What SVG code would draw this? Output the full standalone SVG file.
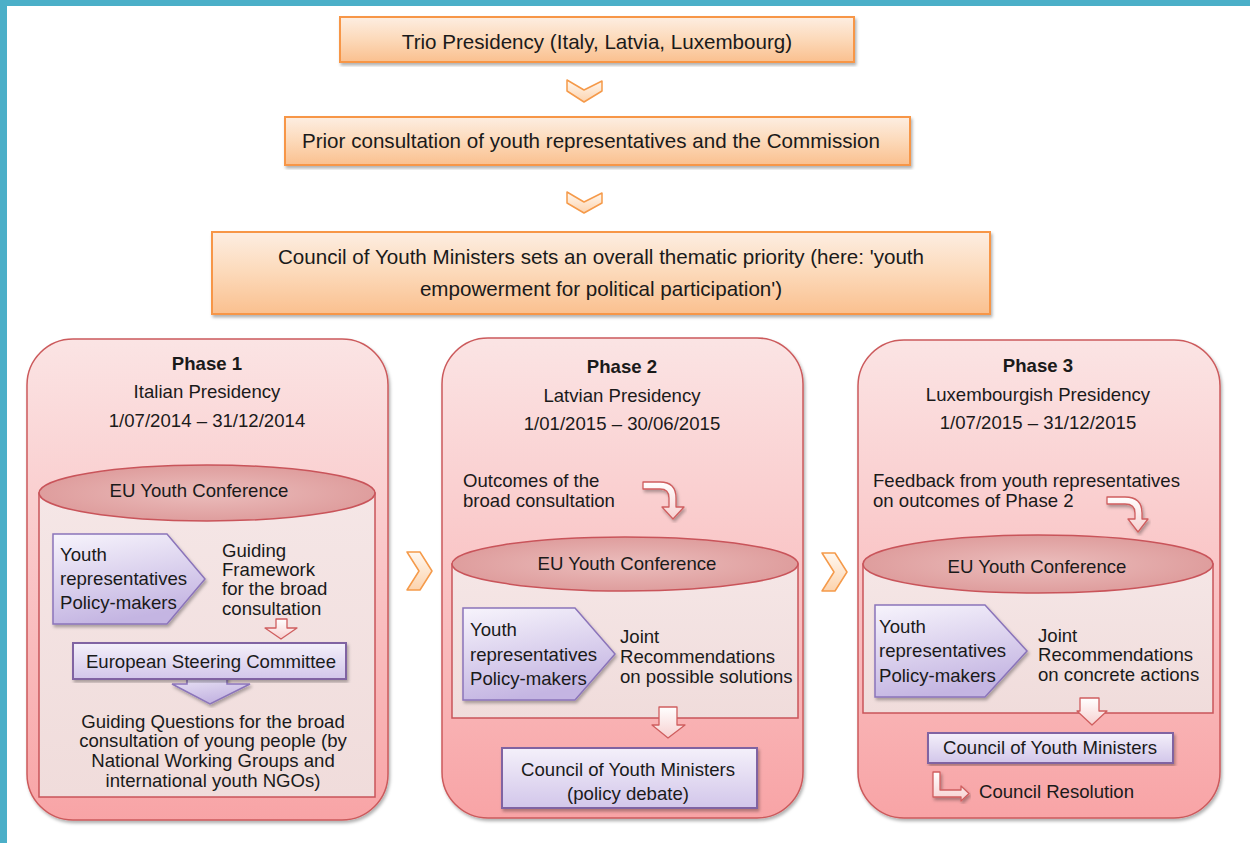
<svg xmlns="http://www.w3.org/2000/svg" width="1250" height="843" viewBox="0 0 1250 843">
<defs>
<linearGradient id="gOrange" x1="0" y1="0" x2="0" y2="1">
<stop offset="0" stop-color="#FDEEE2"/><stop offset="0.5" stop-color="#FCD9B9"/><stop offset="1" stop-color="#FAC08F"/>
</linearGradient>
<linearGradient id="gPanel" x1="0" y1="0" x2="0" y2="1">
<stop offset="0" stop-color="#FBE4E4"/><stop offset="1" stop-color="#F8A4A6"/>
</linearGradient>
<linearGradient id="gBody" x1="0" y1="0" x2="0" y2="1">
<stop offset="0" stop-color="#F5E6E6"/><stop offset="1" stop-color="#F0DCDB"/>
</linearGradient>
<radialGradient id="gTop" cx="0.5" cy="0.5" r="0.6">
<stop offset="0" stop-color="#EBBDBC"/><stop offset="1" stop-color="#DC9797"/>
</radialGradient>
<linearGradient id="gLav" x1="0" y1="0" x2="0.3" y2="1">
<stop offset="0" stop-color="#F7F4FC"/><stop offset="1" stop-color="#C4B5E2"/>
</linearGradient>
<linearGradient id="gLavBox" x1="0" y1="0" x2="0" y2="1">
<stop offset="0" stop-color="#F4F0FA"/><stop offset="1" stop-color="#D2C6EA"/>
</linearGradient>
<linearGradient id="gChev" x1="0" y1="0" x2="0" y2="1">
<stop offset="0" stop-color="#FFF8F0"/><stop offset="1" stop-color="#FCD3AE"/>
</linearGradient>
<linearGradient id="gRed" x1="0" y1="0" x2="0" y2="1">
<stop offset="0" stop-color="#FFFFFF"/><stop offset="1" stop-color="#F7D0D0"/>
</linearGradient>
<filter id="sh" x="-5%" y="-5%" width="110%" height="115%">
<feDropShadow dx="1.5" dy="2.5" stdDeviation="1.5" flood-color="#000" flood-opacity="0.3"/>
</filter>
</defs>
<style>
text{font-family:"Liberation Sans",Arial,sans-serif;fill:#1a1a1a;}
.t19{font-size:20.6px;}
.t17{font-size:18.6px;}
.b{font-weight:bold;}
.c{text-anchor:middle;}
.ob{fill:url(#gOrange);stroke:#F79646;stroke-width:2;}
.panel{fill:url(#gPanel);stroke:#CC5A5C;stroke-width:1.5;}
.body{fill:url(#gBody);stroke:#C9545A;stroke-width:1.5;}
.top{fill:url(#gTop);stroke:#C9545A;stroke-width:1.5;}
.pent{fill:url(#gLav);stroke:#8B74BA;stroke-width:1.5;}
.lav{fill:url(#gLavBox);stroke:#8064A2;stroke-width:2;}
.chev{fill:url(#gChev);stroke:#F59A4A;stroke-width:1.5;stroke-linejoin:round;}
.ra{fill:url(#gRed);stroke:#CF5E5F;stroke-width:1.3;stroke-linejoin:round;}
</style>
<rect x="0" y="0" width="1250" height="843" fill="#FFFFFF"/>
<rect x="0" y="0" width="1250" height="6" fill="#4BAFC8"/>
<rect x="0" y="0" width="7" height="843" fill="#4BAFC8"/>

<g id="trio">
<rect class="ob" x="340" y="17" width="514" height="45" filter="url(#sh)"/>
<text class="t19 c" x="597" y="49">Trio Presidency (Italy, Latvia, Luxembourg)</text>
</g>
<g id="prior">
<rect class="ob" x="285" y="117" width="625" height="48" filter="url(#sh)"/>
<text class="t19 c" x="591" y="148">Prior consultation of youth representatives and the Commission</text>
</g>
<g id="council-priority">
<rect class="ob" x="212" y="232" width="778" height="82" filter="url(#sh)"/>
<text class="t19 c" x="601" y="264">Council of Youth Ministers sets an overall thematic priority (here: 'youth</text>
<text class="t19 c" x="601" y="296">empowerment for political participation')</text>
</g>

<g id="connectors">
<polygon class="chev" points="567,80 584,90 602,81 602,91 584,102 567,91"/>
<polygon class="chev" points="567,192 584,202 602,193 602,203 584,213 567,203"/>
<polygon class="chev" points="407,552 420,552 432,571 420,590 407,590 419,571"/>
<polygon class="chev" points="822,553 835,553 847,572 835,591 822,591 834,572"/>
</g>

<g id="phase1">
<rect class="panel" x="27" y="339" width="361" height="481" rx="46" filter="url(#sh)"/>
<text class="t17 b c" x="207" y="370">Phase 1</text>
<text class="t17 c" x="207" y="398">Italian Presidency</text>
<text class="t17 c" x="207" y="427">1/07/2014 – 31/12/2014</text>
<rect class="body" x="39" y="493" width="336" height="304"/>
<ellipse class="top" cx="207" cy="493" rx="168" ry="28"/>
<text class="t17 c" x="199" y="497">EU Youth Conference</text>
<polygon class="pent" points="53,534 167,534 205,579 167,624 53,624" filter="url(#sh)"/>
<text class="t17" x="60" y="561">Youth</text>
<text class="t17" x="60" y="585">representatives</text>
<text class="t17" x="60" y="609">Policy-makers</text>
<text class="t17" x="222" y="557">Guiding</text>
<text class="t17" x="222" y="576">Framework</text>
<text class="t17" x="222" y="595">for the broad</text>
<text class="t17" x="222" y="615">consultation</text>
<polygon class="ra" points="276,619 287,619 287,628 297,628 281,639 265,628 276,628"/>
<polygon class="pent" points="187,668 227,668 227,684 250,684 210,704 172,684 187,684" filter="url(#sh)"/>
<rect class="lav" x="73" y="643" width="273" height="36" filter="url(#sh)"/>
<text class="t17 c" x="211" y="668">European Steering Committee</text>
<text class="t17 c" x="213" y="728">Guiding Questions for the broad</text>
<text class="t17 c" x="213" y="747">consultation of young people (by</text>
<text class="t17 c" x="213" y="767">National Working Groups and</text>
<text class="t17 c" x="213" y="787">international youth NGOs)</text>
</g>

<g id="phase2">
<rect class="panel" x="442" y="338" width="361" height="480" rx="46" filter="url(#sh)"/>
<text class="t17 b c" x="622" y="373">Phase 2</text>
<text class="t17 c" x="622" y="402">Latvian Presidency</text>
<text class="t17 c" x="622" y="430">1/01/2015 – 30/06/2015</text>
<text class="t17" x="463" y="487">Outcomes of the</text>
<text class="t17" x="463" y="507">broad consultation</text>
<path class="ra" d="M643,482 H660 Q676,482 676,498 V507 H684 L673,519 L662,507 H669 V498 Q669,489 660,489 H643 Z" filter="url(#sh)"/>
<rect class="body" x="452" y="564" width="346" height="154"/>
<ellipse class="top" cx="625" cy="564" rx="173" ry="27"/>
<text class="t17 c" x="627" y="570">EU Youth Conference</text>
<polygon class="pent" points="463,608 575,608 615,654 575,700 463,700" filter="url(#sh)"/>
<text class="t17" x="470" y="636">Youth</text>
<text class="t17" x="470" y="661">representatives</text>
<text class="t17" x="470" y="685">Policy-makers</text>
<text class="t17" x="620" y="643">Joint</text>
<text class="t17" x="620" y="663">Recommendations</text>
<text class="t17" x="620" y="683">on possible solutions</text>
<polygon class="ra" points="659,707 677,707 677,725 685,725 668,738 652,725 659,725"/>
<rect class="lav" x="502" y="748" width="255" height="60" filter="url(#sh)"/>
<text class="t17 c" x="628" y="776">Council of Youth Ministers</text>
<text class="t17 c" x="628" y="800">(policy debate)</text>
</g>

<g id="phase3">
<rect class="panel" x="858" y="340" width="362" height="478" rx="46" filter="url(#sh)"/>
<text class="t17 b c" x="1038" y="372">Phase 3</text>
<text class="t17 c" x="1038" y="401">Luxembourgish Presidency</text>
<text class="t17 c" x="1038" y="429">1/07/2015 – 31/12/2015</text>
<text class="t17" x="873" y="487">Feedback from youth representatives</text>
<text class="t17" x="873" y="507">on outcomes of Phase 2</text>
<path class="ra" d="M1107,497 H1125 Q1142,497 1142,513 V519 H1148 L1138,532 L1128,519 H1135 V513 Q1135,504 1125,504 H1107 Z" filter="url(#sh)"/>
<rect class="body" x="863" y="564" width="350" height="149"/>
<ellipse class="top" cx="1038" cy="564" rx="175" ry="29"/>
<text class="t17 c" x="1037" y="573">EU Youth Conference</text>
<polygon class="pent" points="875,605 985,605 1027,651 985,697 875,697" filter="url(#sh)"/>
<text class="t17" x="879" y="633">Youth</text>
<text class="t17" x="879" y="657">representatives</text>
<text class="t17" x="879" y="682">Policy-makers</text>
<text class="t17" x="1038" y="642">Joint</text>
<text class="t17" x="1038" y="661">Recommendations</text>
<text class="t17" x="1038" y="681">on concrete actions</text>
<polygon class="ra" points="1080,698 1099,698 1099,711 1107,711 1092,725 1077,711 1080,711"/>
<rect class="lav" x="928" y="733" width="245" height="30" filter="url(#sh)"/>
<text class="t17 c" x="1050" y="754">Council of Youth Ministers</text>
<path class="ra" d="M933,772 H940 V790 H961 V786 L969,793.5 L961,801 V797 H933 Z" filter="url(#sh)"/>
<text class="t17" x="979" y="798">Council Resolution</text>
</g>
</svg>
